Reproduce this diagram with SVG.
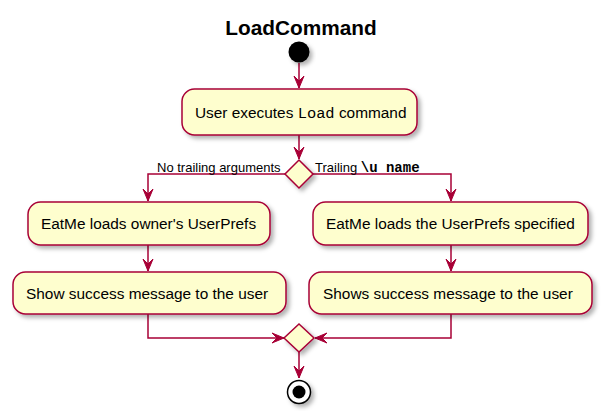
<svg xmlns="http://www.w3.org/2000/svg" width="603" height="418" viewBox="0 0 603 418">
<style>
.act{fill:#FEFECE;stroke:#A80036;stroke-width:1.5;filter:url(#sh)}
.dia{fill:#FEFECE;stroke:#A80036;stroke-width:1.5;filter:url(#sh)}
.t{font-family:"Liberation Sans",Arial,sans-serif;font-size:15.4px;fill:#000}
.lbl{font-family:"Liberation Sans",Arial,sans-serif;font-size:13px;fill:#000}
.mono{font-family:"Liberation Mono","Courier New",monospace}
.ln{fill:none;stroke:#A80036;stroke-width:1.5}
</style>
<defs>
<filter id="sh" x="-20%" y="-20%" width="150%" height="150%">
<feDropShadow dx="3" dy="3" stdDeviation="2" flood-color="#000" flood-opacity="0.3"/>
</filter>
<marker id="ah" viewBox="-13 -6 14 12" refX="0" refY="0" markerWidth="14" markerHeight="12" markerUnits="userSpaceOnUse" orient="auto">
<path d="M0,0 L-12,-5 L-7,0 L-12,5 Z" fill="#A80036" stroke="#A80036" stroke-width="1"/>
</marker>
</defs>
<rect width="603" height="418" fill="#fff"/>
<text x="301" y="35" text-anchor="middle" font-family="'Liberation Sans',Arial,sans-serif" font-size="20.8" font-weight="bold">LoadCommand</text>
<g id="connectors">
<line class="ln" x1="299" y1="63" x2="299" y2="88" marker-end="url(#ah)"/>
<line class="ln" x1="299" y1="135" x2="299" y2="159" marker-end="url(#ah)"/>
<polyline class="ln" points="285,174 148,174 148,201" marker-end="url(#ah)"/>
<polyline class="ln" points="313,174 451,174 451,201" marker-end="url(#ah)"/>
<line class="ln" x1="148" y1="245" x2="148" y2="271" marker-end="url(#ah)"/>
<line class="ln" x1="451" y1="245" x2="451" y2="271" marker-end="url(#ah)"/>
<polyline class="ln" points="148,314 148,338 284,338" marker-end="url(#ah)"/>
<polyline class="ln" points="451,314 451,338 315,338" marker-end="url(#ah)"/>
<line class="ln" x1="299" y1="352" x2="299" y2="378" marker-end="url(#ah)"/>
<text class="lbl" x="157" y="172">No trailing arguments</text>
<text class="lbl" x="315" y="172">Trailing <tspan class="mono" font-weight="bold" font-size="14">\u name</tspan></text>
</g>
<g id="start"><circle cx="299" cy="52" r="10.5" fill="#000" filter="url(#sh)"/></g>
<g id="a1">
<rect class="act" x="182" y="89" width="235" height="46" rx="12.5"/>
<text class="t" x="195" y="118">User executes <tspan class="mono">Load</tspan> command</text>
</g>
<g id="d1"><polygon class="dia" points="299,160 313,174 299,188 285,174"/></g>
<g id="a2">
<rect class="act" x="28" y="202" width="242" height="43" rx="12.5"/>
<text class="t" x="41" y="229">EatMe loads owner's UserPrefs</text>
</g>
<g id="a3">
<rect class="act" x="13" y="272" width="273" height="42" rx="12.5"/>
<text class="t" x="26" y="299">Show success message to the user</text>
</g>
<g id="a4">
<rect class="act" x="313" y="202" width="275" height="43" rx="12.5"/>
<text class="t" x="326" y="229">EatMe loads the UserPrefs specified</text>
</g>
<g id="a5">
<rect class="act" x="309" y="272" width="283" height="42" rx="12.5"/>
<text class="t" x="323" y="299">Shows success message to the user</text>
</g>
<g id="d2"><polygon class="dia" points="299,324 314,338 299,352 284,338"/></g>
<g id="end">
<circle cx="299" cy="392" r="11.5" fill="#fff" stroke="#000" stroke-width="1.5" filter="url(#sh)"/>
<circle cx="299" cy="392" r="6.5" fill="#000"/>
</g>
</svg>
